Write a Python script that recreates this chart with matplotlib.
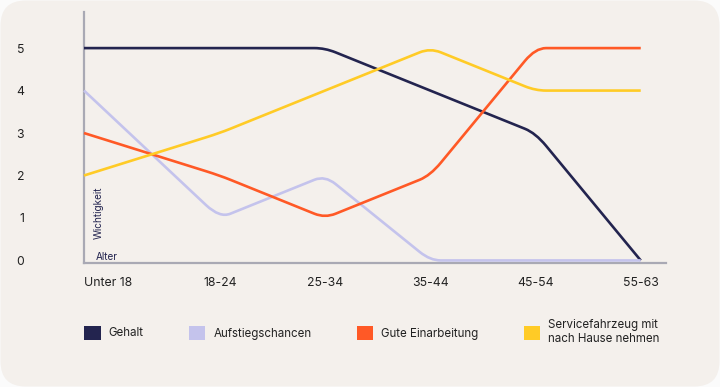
import numpy as np
import matplotlib
matplotlib.use('Agg')
import matplotlib.pyplot as plt
from matplotlib.path import Path
from matplotlib.patches import PathPatch, FancyBboxPatch, Patch

plt.rcParams['font.family'] = ['Inter', 'DejaVu Sans']

# ── Data ─────────────────────────────────────────────────────────────────────
ages = ['Unter 18', '18-24', '25-34', '35-44', '45-54', '55-63']
gehalt = [5, 5, 5, 4, 3, 0]
aufstieg = [4, 1, 2, 0, 0, 0]
einarbeitung = [3, 2, 1, 2, 5, 5]
service = [2, 3, 4, 5, 4, 4]
series_names = ['Gehalt', 'Aufstiegschancen', 'Gute Einarbeitung',
                'Servicefahrzeug mit\nnach Hause nehmen']
y_ticks = [0, 1, 2, 3, 4, 5]

# ── Style ────────────────────────────────────────────────────────────────────
BG = '#f4f0ec'
NAVY = '#23244f'
LAVENDER = '#c4c3ec'
ORANGE = '#ff5926'
YELLOW = '#ffcb26'
AXIS = '#a9a9b4'
TEXT = '#222222'
colors = [NAVY, LAVENDER, ORANGE, YELLOW]

W, H = 720, 387
fig = plt.figure(figsize=(W / 100, H / 100), dpi=100)
fig.patch.set_facecolor('#fbfbfb')
fig.patches.append(FancyBboxPatch((0.5 / W, 0.5 / H), 1 - 1 / W, 1 - 1 / H,
                                  boxstyle='round,pad=0,rounding_size=0.035',
                                  transform=fig.transFigure, fc=BG, ec='none',
                                  mutation_aspect=W / H, zorder=-5))

ax = fig.add_axes([84 / W, 1 - 263 / H, (666 - 84) / W, (263 - 12) / H])
ax.set_facecolor('none')

# first age group sits on the y axis, the rest evenly spaced
x_pos = np.arange(len(ages), dtype=float)
x_pos[0] = -0.29


def rounded_path(xs, ys, frac=0.1):
    """Polyline with softly rounded corners (quadratic bezier at each vertex)."""
    pts = np.column_stack([xs, ys]).astype(float)
    verts = [pts[0]]
    codes = [Path.MOVETO]
    for i in range(1, len(pts) - 1):
        p0, p1, p2 = pts[i - 1], pts[i], pts[i + 1]
        a = p1 + (p0 - p1) * frac
        b = p1 + (p2 - p1) * frac
        verts += [a, p1, b]
        codes += [Path.LINETO, Path.CURVE3, Path.CURVE3]
    verts.append(pts[-1])
    codes.append(Path.LINETO)
    return Path(verts, codes)


for vals, c in zip([gehalt, aufstieg, einarbeitung, service], colors):
    ax.add_patch(PathPatch(rounded_path(x_pos, vals), fill=False, ec=c,
                           lw=1.9, capstyle='butt', joinstyle='round',
                           clip_on=False, zorder=3))

ax.set_xlim(x_pos[0], x_pos[-1] + 0.24)
ax.set_ylim(-0.06, 5.85)

for s in ['top', 'right']:
    ax.spines[s].set_visible(False)
for s in ['left', 'bottom']:
    ax.spines[s].set_color(AXIS)
    ax.spines[s].set_linewidth(1.6)
    ax.spines[s].set_zorder(2)

ax.set_xticks(x_pos)
ax.set_xticklabels(ages)
ax.set_yticks(y_ticks)
ax.set_yticklabels([str(v) for v in y_ticks])
ax.tick_params(axis='both', length=0, labelsize=8.8, labelcolor=TEXT)
ax.tick_params(axis='x', pad=10)
ax.tick_params(axis='y', pad=43)
ax.get_xticklabels()[0].set_ha('left')

ax.text(12 / 582, 6 / 251, 'Alter', transform=ax.transAxes, fontsize=7.2,
        color=NAVY, ha='left', va='center')
ax.text(15 / 582, 24 / 251, 'Wichtigkeit', transform=ax.transAxes,
        fontsize=7.2, color=NAVY, rotation=90, ha='center', va='bottom')

handles = [Patch(fc=c, ec='none') for c in colors]
fig.legend(handles, series_names, loc='center left',
           bbox_to_anchor=(84 / W, 1 - 332 / H), ncol=4, frameon=False,
           fontsize=8.3, labelcolor=TEXT, borderpad=0, borderaxespad=0,
           handlelength=1.45, handleheight=1.45, handletextpad=0.7,
           columnspacing=3.9)

fig.savefig('out.png', dpi=100, facecolor=fig.get_facecolor())
